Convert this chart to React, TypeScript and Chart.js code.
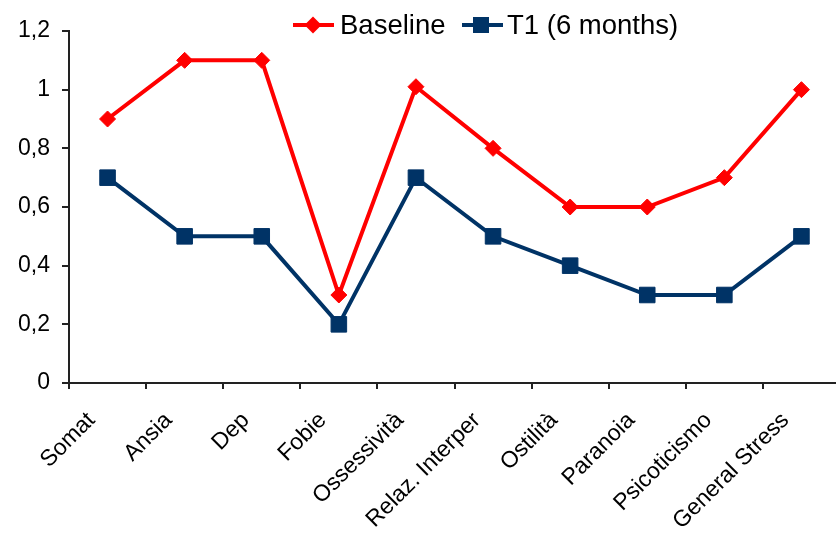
import React, { useEffect, useRef } from "react";
import { Chart, registerables } from "chart.js";

Chart.register(...registerables);

const categories = [
  "Somat",
  "Ansia",
  "Dep",
  "Fobie",
  "Ossessività",
  "Relaz. Interper",
  "Ostilità",
  "Paranoia",
  "Psicoticismo",
  "General Stress",
];
const baseline = [0.9, 1.1, 1.1, 0.3, 1.01, 0.8, 0.6, 0.6, 0.7, 1.0];
const t1 = [0.7, 0.5, 0.5, 0.2, 0.7, 0.5, 0.4, 0.3, 0.3, 0.5];
const seriesNames = ["Baseline", "T1 (6 months)"];
const yMin = 0;
const yMax = 1.2;
const yStep = 0.2;

const RED = "#FF0000";
const NAVY = "#003366";
const FONT = "'Liberation Sans', Arial, sans-serif";

const legendPlugin = {
  id: "customLegend",
  afterDraw(chart: any) {
    const ctx = chart.ctx;
    ctx.save();
    ctx.font = `27.5px ${FONT}`;
    ctx.fillStyle = "#000";
    ctx.textBaseline = "alphabetic";
    ctx.textAlign = "left";
    const y = 25;
    // Baseline item
    ctx.strokeStyle = RED;
    ctx.lineWidth = 4;
    ctx.beginPath();
    ctx.moveTo(293, y);
    ctx.lineTo(334, y);
    ctx.stroke();
    ctx.fillStyle = RED;
    ctx.beginPath();
    ctx.moveTo(313 - 8.5, y);
    ctx.lineTo(313, y - 8.5);
    ctx.lineTo(313 + 8.5, y);
    ctx.lineTo(313, y + 8.5);
    ctx.closePath();
    ctx.fill();
    ctx.fillStyle = "#000";
    ctx.fillText(seriesNames[0], 340, 34);
    // T1 item
    ctx.strokeStyle = NAVY;
    ctx.beginPath();
    ctx.moveTo(462, y);
    ctx.lineTo(503, y);
    ctx.stroke();
    ctx.fillStyle = NAVY;
    ctx.fillRect(481 - 8, y - 8, 16, 16);
    ctx.fillStyle = "#000";
    ctx.fillText(seriesNames[1], 507, 34);
    ctx.restore();
  },
};

export default function App() {
  const ref = useRef<HTMLCanvasElement | null>(null);
  useEffect(() => {
    if (!ref.current) return;
    const chart = new Chart(ref.current, {
      type: "line",
      data: {
        labels: categories,
        datasets: [
          {
            label: seriesNames[0],
            data: baseline,
            borderColor: RED,
            backgroundColor: RED,
            borderWidth: 4,
            pointStyle: "rectRot",
            pointRadius: 8,
            pointBorderWidth: 1,
            pointBackgroundColor: RED,
            pointBorderColor: RED,
            tension: 0,
          },
          {
            label: seriesNames[1],
            data: t1,
            borderColor: NAVY,
            backgroundColor: NAVY,
            borderWidth: 4,
            pointStyle: "rect",
            pointRadius: 11,
            pointBorderWidth: 1,
            pointBackgroundColor: NAVY,
            pointBorderColor: NAVY,
            tension: 0,
          },
        ],
      },
      options: {
        animation: false,
        responsive: true,
        maintainAspectRatio: false,
        devicePixelRatio: 1,
        layout: { autoPadding: false, padding: { top: 31, right: 2, left: 0, bottom: 0 } },
        plugins: {
          legend: { display: false },
          tooltip: { enabled: false },
        },
        scales: {
          x: {
            offset: true,
            afterFit: (scale: any) => {
              scale.height = 154;
              scale.paddingLeft = 0;
              scale.paddingRight = 0;
            },
            grid: {
              offset: true,
              drawOnChartArea: false,
              drawTicks: true,
              tickLength: 6,
              color: "#222",
              lineWidth: 2,
            },
            border: { color: "#222", width: 2 },
            ticks: {
              minRotation: 45,
              maxRotation: 45,
              autoSkip: false,
              padding: 18,
              labelOffset: -16,
              color: "#000",
              font: { family: FONT, size: 23 },
            },
          },
          y: {
            min: yMin,
            max: yMax,
            afterFit: (scale: any) => {
              scale.width = 69;
              scale.paddingTop = 0;
              scale.paddingBottom = 0;
            },
            grid: {
              drawOnChartArea: false,
              drawTicks: true,
              tickLength: 7,
              color: "#222",
              lineWidth: 2,
            },
            border: { color: "#222", width: 2 },
            ticks: {
              stepSize: yStep,
              padding: 12,
              color: "#000",
              font: { family: FONT, size: 23 },
              callback: (v: any) => String(Number(Number(v).toFixed(1))).replace(".", ","),
            },
          },
        },
      },
      plugins: [legendPlugin],
    });
    return () => chart.destroy();
  }, []);
  return (
    <div
      style={{
        position: "absolute",
        left: 0,
        top: 0,
        width: 836,
        height: 537,
        overflow: "hidden",
        background: "#fff",
      }}
    >
      <div style={{ position: "relative", width: 842, height: 537 }}>
        <canvas ref={ref} />
      </div>
    </div>
  );
}
